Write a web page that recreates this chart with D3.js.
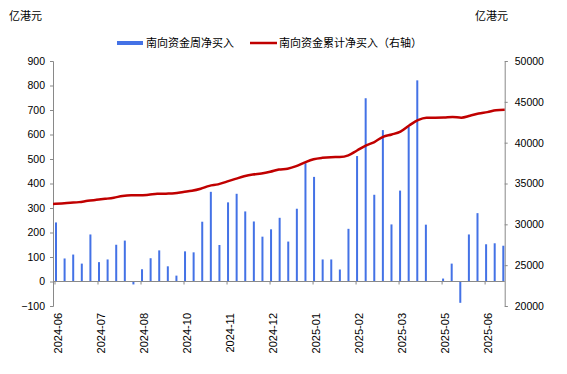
<!DOCTYPE html>
<html><head><meta charset="utf-8">
<script src="https://cdn.jsdelivr.net/npm/d3@7"></script>
<style>
html,body{margin:0;padding:0;background:#fff;}
svg{display:block;}
text{font-family:"Liberation Sans",Arial,sans-serif;fill:#000;}
.cjk{font-family:"Noto Sans CJK SC","Noto Sans",sans-serif;}
</style></head>
<body>
<svg id="chart" width="567" height="374"></svg>
<script>
// ---- data ----
const categories = [
 "2024-06","2024-06","2024-06","2024-06","2024-07","2024-07","2024-07","2024-07","2024-08","2024-08",
 "2024-08","2024-08","2024-09","2024-09","2024-09","2024-10","2024-10","2024-10","2024-10","2024-11",
 "2024-11","2024-11","2024-11","2024-12","2024-12","2024-12","2024-12","2024-12","2025-01","2025-01",
 "2025-01","2025-01","2025-02","2025-02","2025-02","2025-02","2025-03","2025-03","2025-03","2025-03",
 "2025-03","2025-04","2025-04","2025-04","2025-04","2025-05","2025-05","2025-05","2025-05","2025-06",
 "2025-06","2025-06","2025-06"
];
const tickLabels = ["2024-06","2024-07","2024-08","2024-10","2024-11","2024-12","2025-01","2025-02","2025-03","2025-05","2025-06"];
const weeklyNet = [
 241, 94, 110, 73, 192, 79, 90, 150, 167, -12,
 50, 95, 127, 62, 24, 123, 119, 244, 366, 149,
 323, 358, 286, 245, 183, 213, 260, 163, 297, 483,
 427, 90, 90, 49, 215, 512, 748, 354, 618, 233,
 371, 632, 821, 232, 2, 12, 73, -87, 192, 279,
 152, 156, 146
];
const cumulativeNet = [
 32490, 32560, 32640, 32720, 32880, 33000, 33120, 33260, 33480, 33560,
 33550, 33620, 33730, 33760, 33800, 33960, 34100, 34350, 34710, 34890,
 35230, 35560, 35880, 36100, 36220, 36430, 36710, 36810, 37120, 37590,
 37970, 38140, 38220, 38240, 38450, 39040, 39650, 40080, 40720, 41000,
 41360, 42100, 42760, 43060, 43060, 43080, 43150, 43060, 43300, 43580,
 43740, 43960, 44040
];
const leftTicks = [-100,0,100,200,300,400,500,600,700,800,900];
const rightTicks = [20000,25000,30000,35000,40000,45000,50000];
const unitLabel = "亿港元";
const seriesNames = ["南向资金周净买入","南向资金累计净买入（右轴）"];

// ---- layout ----
const svg = d3.select("#chart");
const L = 53, R = 504.7, T = 61, B = 306;
const axisColor = "#898989";
const barColor = "#4472E6";
const lineColor = "#C00000";

const idx = d3.range(categories.length);
const xBar = d3.scalePoint().domain(idx).range([56, 503.3]);
const xLine = d3.scalePoint().domain(idx).range([L, R]);
const yL = d3.scaleLinear().domain([-100, 900]).range([B, T]);
const yR = d3.scaleLinear().domain([20000, 50000]).range([B, T]);

// left axis
const gL = svg.append("g").attr("transform", `translate(${L},0)`)
  .call(d3.axisLeft(yL).tickValues(leftTicks).tickSize(3).tickPadding(5).tickFormat(d3.format("d")));
gL.select(".domain").attr("stroke", axisColor);
gL.selectAll(".tick line").attr("stroke", axisColor);
gL.selectAll("text").attr("font-size", "10.5px").attr("font-family", "Liberation Sans, Arial, sans-serif").attr("fill", "#000");

// right axis
const gR = svg.append("g").attr("transform", `translate(${R},0)`)
  .call(d3.axisRight(yR).tickValues(rightTicks).tickSize(3).tickPadding(7).tickFormat(d3.format("d")));
gR.select(".domain").attr("stroke", axisColor);
gR.selectAll(".tick line").attr("stroke", axisColor);
gR.selectAll("text").attr("font-size", "10.5px").attr("font-family", "Liberation Sans, Arial, sans-serif").attr("fill", "#000");

// bars
svg.append("g").selectAll("rect").data(weeklyNet).join("rect")
  .attr("x", (d, i) => xBar(i) - 1)
  .attr("width", 2)
  .attr("y", d => yL(Math.max(0, d)))
  .attr("height", d => Math.abs(yL(d) - yL(0)))
  .attr("fill", barColor);

// x axis at zero
const y0 = yL(0);
svg.append("line").attr("x1", L).attr("x2", R).attr("y1", y0).attr("y2", y0)
  .attr("stroke", axisColor).attr("stroke-width", 1);
const labelIdx = idx.filter(i => i % 5 === 0);
svg.append("g").selectAll("line").data(labelIdx).join("line")
  .attr("x1", i => xBar(i) - 1).attr("x2", i => xBar(i) - 1)
  .attr("y1", y0).attr("y2", y0 + 3).attr("stroke", axisColor);

// x labels
svg.append("g").selectAll("text").data(labelIdx).join("text")
  .attr("transform", (i) => `translate(${xBar(i) + 2},313) rotate(-90)`)
  .attr("text-anchor", "end")
  .attr("dy", "0.35em")
  .attr("font-size", "11px")
  .text((i, k) => tickLabels[k]);

// line
const line = d3.line().x((d, i) => xLine(i)).y(d => yR(d)).curve(d3.curveMonotoneX);
svg.append("path").datum(cumulativeNet).attr("d", line)
  .attr("fill", "none").attr("stroke", lineColor).attr("stroke-width", 2.5)
  .attr("stroke-linejoin", "round");

// unit labels
svg.append("text").attr("class", "cjk").attr("x", 9).attr("y", 20).attr("font-size", "11px").text(unitLabel);
svg.append("text").attr("class", "cjk").attr("x", 508).attr("y", 20).attr("text-anchor", "end").attr("font-size", "11px").text(unitLabel);

// legend
const lg = svg.append("g");
lg.append("rect").attr("x", 117).attr("y", 41).attr("width", 26).attr("height", 4).attr("fill", barColor);
lg.append("text").attr("class", "cjk").attr("x", 146).attr("y", 47).attr("font-size", "11px").text(seriesNames[0]);
lg.append("line").attr("x1", 250).attr("x2", 277).attr("y1", 43).attr("y2", 43).attr("stroke", lineColor).attr("stroke-width", 2.5);
lg.append("text").attr("class", "cjk").attr("x", 279).attr("y", 47).attr("font-size", "11px").text(seriesNames[1]);
</script>
</body></html>
